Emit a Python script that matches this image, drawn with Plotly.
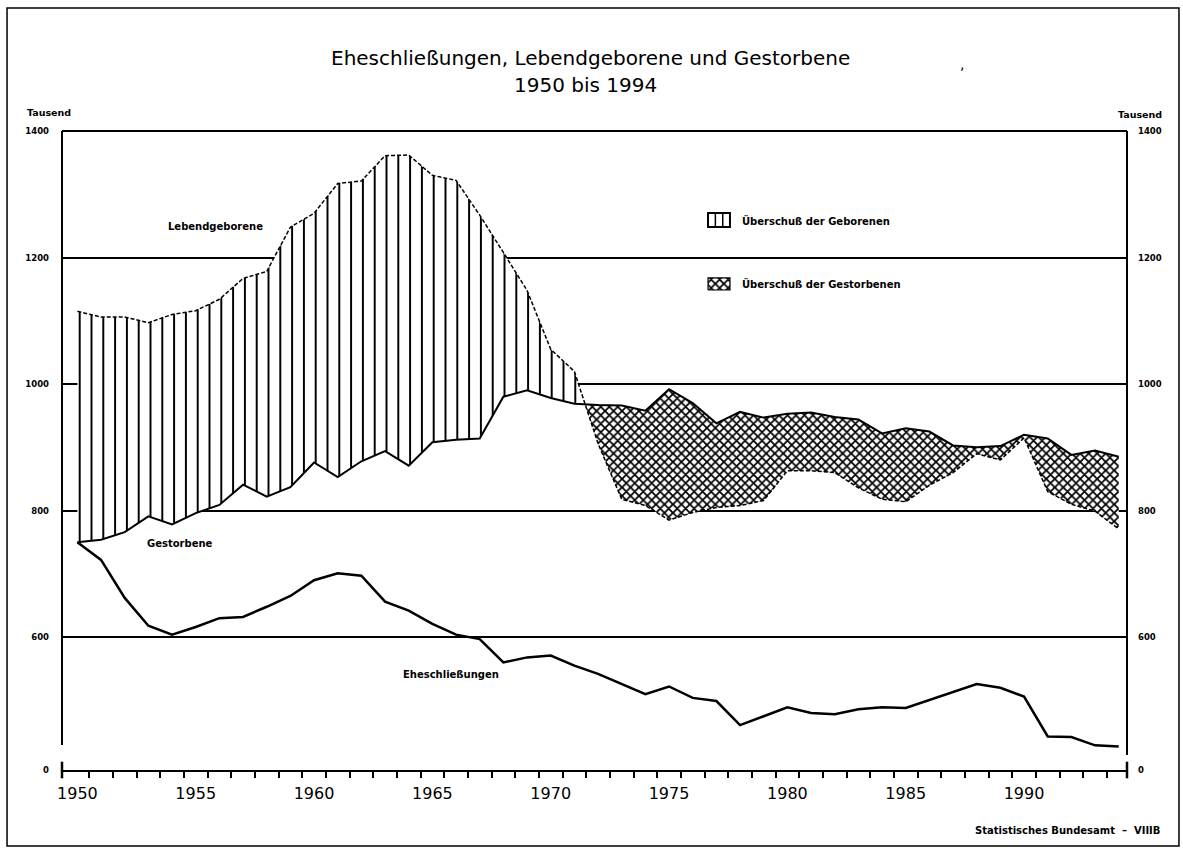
import plotly.graph_objects as go

# ---------------- data (thousands) ----------------
years = list(range(1950, 1995))
births = [1115, 1106, 1106, 1097, 1110, 1116, 1134, 1167, 1178, 1248,
          1270, 1317, 1321, 1361, 1362, 1330, 1322, 1267, 1208, 1148,
          1055, 1020, 906, 818, 808, 785, 797, 805, 808, 816,
          863, 863, 860, 836, 818, 814, 840, 860, 890, 880,
          915, 830, 810, 799, 771]
deaths = [750, 754, 766, 791, 778, 796, 809, 841, 822, 837,
          876, 853, 878, 894, 871, 908, 912, 914, 980, 990,
          978, 969, 967, 966, 958, 992, 970, 938, 956, 947,
          953, 955, 948, 944, 922, 930, 925, 903, 900, 902,
          920, 914, 888, 895, 885]
marriages = [750, 722, 662, 618, 604, 616, 630, 632, 648, 665,
             690, 701, 697, 656, 642, 621, 604, 597, 560, 568,
             571, 555, 542, 526, 510, 522, 504, 499, 461, 475,
             489, 480, 478, 486, 489, 488, 501, 514, 526, 520,
             506, 443, 442, 429, 427]

label_years = [1950, 1955, 1960, 1965, 1970, 1975, 1980, 1985, 1990]
y_tickvals = [390, 600, 800, 1000, 1200, 1400]
y_ticktext = ["0", "600", "800", "1000", "1200", "1400"]

FONT = "DejaVu Sans"

# ---------------- split births/deaths into surplus segments ----------------
def segments(x, a, b):
    """Return list of (xs, a_s, b_s, sign) pieces where sign = a>=b."""
    segs = []
    cur_x, cur_a, cur_b = [x[0]], [a[0]], [b[0]]
    sign = a[0] >= b[0]
    for i in range(1, len(x)):
        s = a[i] >= b[i]
        if s != sign:
            d0 = a[i - 1] - b[i - 1]
            d1 = a[i] - b[i]
            t = d0 / (d0 - d1)
            xc = x[i - 1] + t * (x[i] - x[i - 1])
            yc = a[i - 1] + t * (a[i] - a[i - 1])
            cur_x.append(xc); cur_a.append(yc); cur_b.append(yc)
            segs.append((cur_x, cur_a, cur_b, sign))
            cur_x, cur_a, cur_b = [xc], [yc], [yc]
            sign = s
        cur_x.append(x[i]); cur_a.append(a[i]); cur_b.append(b[i])
    segs.append((cur_x, cur_a, cur_b, sign))
    return segs

fig = go.Figure()

pat_births = dict(shape="|", size=11.8, solidity=0.17, fgcolor="black",
                  bgcolor="white", fillmode="replace")
pat_deaths = dict(shape="x", size=6, solidity=0.5, fgcolor="black",
                  bgcolor="white", fillmode="replace")

for xs, bs, ds, births_higher in segments(years, births, deaths):
    low = ds if births_higher else bs
    high = bs if births_higher else ds
    fig.add_trace(go.Scatter(x=xs, y=low, mode="lines", line=dict(width=0),
                             showlegend=False, hoverinfo="skip"))
    fig.add_trace(go.Scatter(x=xs, y=high, mode="lines", line=dict(width=0),
                             fill="tonexty", fillcolor="white",
                             fillpattern=pat_births if births_higher else pat_deaths,
                             showlegend=False, hoverinfo="skip"))

fig.add_trace(go.Scatter(x=years, y=births, mode="lines", name="Lebendgeborene",
                         line=dict(color="black", width=1.5, dash="4px,2px"),
                         showlegend=False))
fig.add_trace(go.Scatter(x=years, y=deaths, mode="lines", name="Gestorbene",
                         line=dict(color="black", width=2), showlegend=False))
fig.add_trace(go.Scatter(x=years, y=marriages, mode="lines", name="Eheschließungen",
                         line=dict(color="black", width=2.5), showlegend=False))
# right axis carrier
fig.add_trace(go.Scatter(x=years, y=deaths, yaxis="y2", mode="lines",
                         line=dict(width=0), opacity=0, showlegend=False,
                         hoverinfo="skip"))

# legend swatch with cross pattern (overlay axes 0..1 = plot area)
sw_x = [0.6066, 0.6272, 0.6272, 0.6066, 0.6066]
sw_y = [0.7512, 0.7512, 0.7700, 0.7700, 0.7512]
fig.add_trace(go.Scatter(x=sw_x, y=sw_y, xaxis="x2", yaxis="y3", mode="lines",
                         line=dict(color="black", width=1.2), fill="toself",
                         fillcolor="white", fillpattern=pat_deaths,
                         showlegend=False, hoverinfo="skip"))

# ---------------- shapes ----------------
shapes = []
# outer frame
shapes.append(dict(type="rect", xref="paper", yref="paper", x0=-0.0516, x1=1.0488,
                   y0=-0.1189, y1=1.1925, line=dict(color="black", width=1.5)))
# axis frame lines (with break at bottom)
shapes.append(dict(type="line", xref="paper", yref="paper", x0=0, x1=0, y0=0.039, y1=1,
                   line=dict(color="black", width=2)))
shapes.append(dict(type="line", xref="paper", yref="paper", x0=1, x1=1, y0=0.0235, y1=1,
                   line=dict(color="black", width=2)))
shapes.append(dict(type="line", xref="paper", yref="paper", x0=0, x1=1, y0=1, y1=1,
                   line=dict(color="black", width=2)))
# end ticks of x axis
for xe in (0, 1):
    shapes.append(dict(type="line", xref="paper", yref="paper", x0=xe, x1=xe,
                       y0=-0.013, y1=0.013, line=dict(color="black", width=2.5)))
# legend box 1 (vertical lines)
shapes.append(dict(type="rect", xref="paper", yref="paper", x0=0.6066, x1=0.6272,
                   y0=0.8498, y1=0.8717, line=dict(color="black", width=2)))
for xl in (0.6135, 0.6204):
    shapes.append(dict(type="line", xref="paper", yref="paper", x0=xl, x1=xl,
                       y0=0.8498, y1=0.8717, line=dict(color="black", width=1.5)))

# ---------------- annotations ----------------
def ann(text, x, y, size, xanchor="center", weight="normal"):
    return dict(text=text, x=x, y=y, xref="paper", yref="paper", showarrow=False,
                xanchor=xanchor, yanchor="middle",
                font=dict(family=FONT, size=size, color="black", weight=weight))

annotations = [
    ann("Eheschließungen, Lebendgeborene und Gestorbene", 0.4958, 1.1142, 20),
    ann("1950 bis 1994", 0.4915, 1.072, 20),
    ann(",", 0.845, 1.105, 14),
    ann("Tausend", -0.0122, 1.0297, 9.5, weight="bold"),
    ann("Tausend", 1.0122, 1.0266, 9.5, weight="bold"),
    ann("Lebendgeborene", 0.1437, 0.8498, 10, weight="bold"),
    ann("Gestorbene", 0.1108, 0.3552, 10, weight="bold"),
    ann("Eheschließungen", 0.3653, 0.1487, 10, weight="bold"),
    ann("Überschuß der Geborenen", 0.6366, 0.8607, 10, xanchor="left", weight="bold"),
    ann("Überschuß der Gestorbenen", 0.6366, 0.7606, 10, xanchor="left", weight="bold"),
    ann("Statistisches Bundesamt  –  VIIIB", 1.0329, -0.0939, 10, xanchor="right",
        weight="bold"),
]

fig.update_layout(
    width=1183, height=851,
    margin=dict(l=62, r=56, t=131, b=81),
    paper_bgcolor="white", plot_bgcolor="white",
    showlegend=False,
    shapes=shapes, annotations=annotations,
    xaxis=dict(range=[1949.35, 1994.35], tickmode="array", tickvals=label_years,
               ticktext=[str(v) for v in label_years], ticks="", showgrid=False,
               zeroline=False, showline=True, linecolor="black", linewidth=2,
               ticklabelstandoff=8,
               tickfont=dict(family=FONT, size=16, color="black"),
               minor=dict(tickmode="array", tickvals=[y + 0.5 for y in years[:-1]],
                          ticks="outside", ticklen=6, tickwidth=1.5,
                          tickcolor="black", showgrid=False)),
    yaxis=dict(range=[390, 1400], tickmode="array", tickvals=y_tickvals,
               ticktext=y_ticktext, ticks="", showgrid=True, gridcolor="black",
               gridwidth=1.5, zeroline=False, showline=False,
               ticklabelstandoff=12,
               tickfont=dict(family=FONT, size=8.5, color="black", weight="bold")),
    yaxis2=dict(range=[390, 1400], overlaying="y", side="right", anchor="x",
                tickmode="array", tickvals=y_tickvals, ticktext=y_ticktext,
                ticks="", showgrid=False, zeroline=False, showline=False,
                ticklabelstandoff=10,
                tickfont=dict(family=FONT, size=8.5, color="black", weight="bold")),
    xaxis2=dict(range=[0, 1], overlaying="x", visible=False),
    yaxis3=dict(range=[0, 1], overlaying="y", visible=False),
)

fig.write_html("out.html", config={"displayModeBar": False},
               post_script="document.body.style.margin='0';")
